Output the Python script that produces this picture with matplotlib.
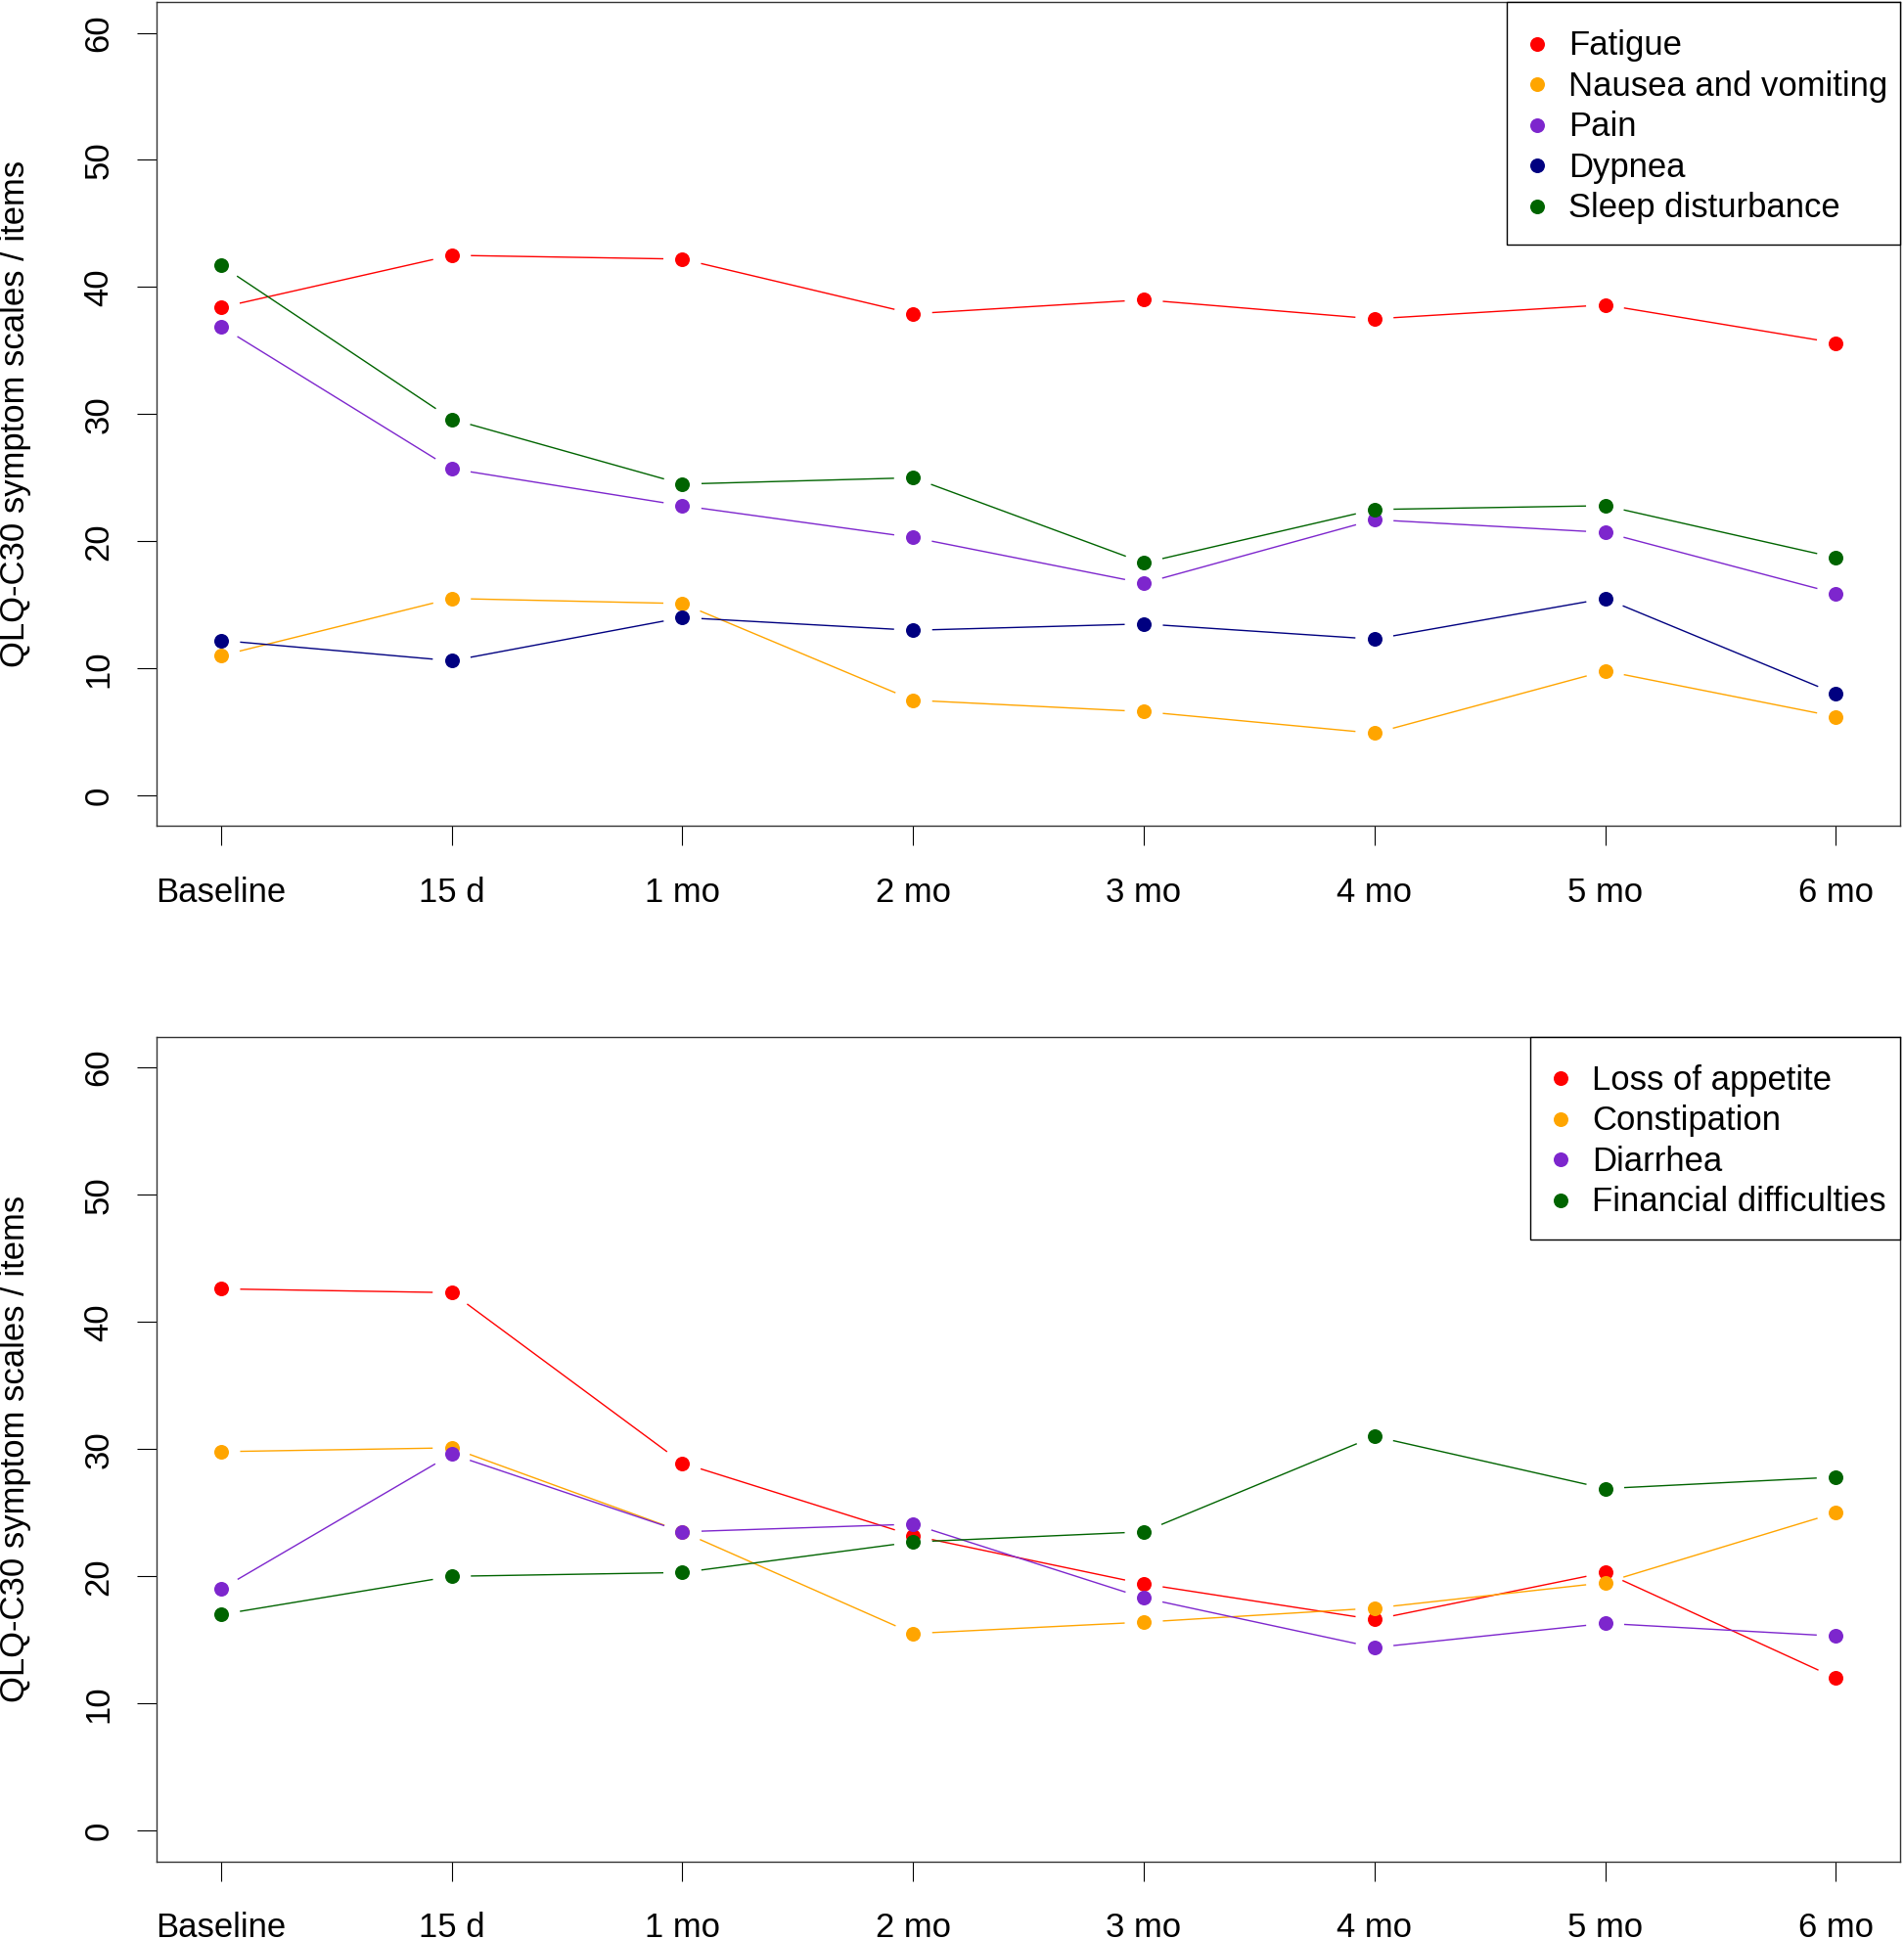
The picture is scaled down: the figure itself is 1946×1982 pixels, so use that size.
# QLQ-C30 symptom scales over follow-up (two panels, R-style type="b" lines)

import numpy as np
import matplotlib
matplotlib.use('Agg')
import matplotlib.pyplot as plt
from matplotlib.patches import Rectangle
from matplotlib.transforms import ScaledTranslation

plt.rcParams['font.family'] = ['Liberation Sans', 'DejaVu Sans']

# Data
TimeLabels = ['Baseline', '15 d', '1 mo', '2 mo', '3 mo', '4 mo', '5 mo', '6 mo']

# top panel
Fatigue = [38.4, 42.5, 42.2, 37.9, 39.0, 37.5, 38.6, 35.6]
Nausea = [11.0, 15.5, 15.1, 7.5, 6.6, 4.9, 9.8, 6.2]
Pain = [36.9, 25.7, 22.8, 20.3, 16.7, 21.7, 20.7, 15.9]
Dypnea = [12.2, 10.6, 14.0, 13.0, 13.5, 12.3, 15.5, 8.0]
Sleep = [41.7, 29.6, 24.5, 25.0, 18.3, 22.5, 22.8, 18.7]
TopNames = ['Fatigue', 'Nausea and vomiting', 'Pain', 'Dypnea', 'Sleep disturbance']

# bottom panel
Appetite = [42.6, 42.3, 28.9, 23.2, 19.4, 16.6, 20.3, 12.0]
Constipation = [29.8, 30.1, 23.5, 15.5, 16.4, 17.5, 19.5, 25.0]
Diarrhea = [19.0, 29.6, 23.5, 24.1, 18.3, 14.4, 16.3, 15.3]
Financial = [17.0, 20.0, 20.3, 22.7, 23.5, 31.0, 26.9, 27.8]
BotNames = ['Loss of appetite', 'Constipation', 'Diarrhea', 'Financial difficulties']

TopCols = ['#FF0000', '#FFA500', '#7D26CD', '#000080', '#006400']
BotCols = ['#FF0000', '#FFA500', '#7D26CD', '#006400']

FS = 24.9      # font size (pt)
GAP = 19.5     # gap between line and point, pixels
MS = 10.8      # marker size
DPI = 100

x = np.arange(1, 9)

fig = plt.figure(figsize=(19.46, 19.82), dpi=DPI)
axTop = fig.add_axes([0.0822, 0.5740, 0.9159, 0.4248])
axBot = fig.add_axes([0.0822, 0.0401, 0.9159, 0.4251])


def gapped_line(ax, xs, ys, col):
    # draw segments that stop short of each point, like R's type="b"
    pts = ax.transData.transform(np.column_stack([xs, ys]))
    inv = ax.transData.inverted()
    for i in range(len(pts) - 1):
        d = pts[i + 1] - pts[i]
        L = np.hypot(d[0], d[1])
        if L <= 2 * GAP:
            continue
        a = pts[i] + d / L * GAP
        b = pts[i + 1] - d / L * GAP
        seg = inv.transform(np.array([a, b]))
        ax.plot(seg[:, 0], seg[:, 1], color=col, lw=1.0, solid_capstyle='butt')


def r_legend(ax, names, cols, boxw, boxh):
    # R-style legend box in the top right corner, sizes in pixels
    T = fig.dpi_scale_trans + ScaledTranslation(1, 1, ax.transAxes)
    ax.add_patch(Rectangle((-boxw / DPI, -boxh / DPI), boxw / DPI, boxh / DPI,
                           transform=T, facecolor='white', edgecolor='black',
                           lw=1.0, clip_on=False, zorder=5))
    for i, (nm, c) in enumerate(zip(names, cols)):
        yrow = -(42.3 + 41.5 * i) / DPI
        ax.plot([(-boxw + 31.2) / DPI], [yrow], 'o', color=c, ms=MS, mec='none',
                transform=T, clip_on=False, zorder=6)
        ax.text((-boxw + 63.2) / DPI, yrow - 11.5 / DPI, nm, transform=T,
                va='baseline', ha='left', fontsize=FS, zorder=6)


def panel(ax, series, cols):
    ax.set_xlim(1 - 0.28, 8 + 0.28)
    ax.set_ylim(-2.4, 62.4)
    for ys, col in zip(series, cols):
        gapped_line(ax, x, ys, col)
        ax.plot(x, ys, 'o', color=col, ms=MS, mec='none')

    ax.set_xticks(x)
    ax.set_xticklabels(TimeLabels)
    ax.set_yticks([0, 10, 20, 30, 40, 50, 60])
    ax.tick_params(axis='x', length=14.4, width=0.8, pad=22.5, labelsize=FS)
    ax.tick_params(axis='y', length=14.4, width=0.8, pad=16, labelsize=FS)
    for lab in ax.get_yticklabels():
        lab.set_rotation(90)
        lab.set_verticalalignment('center')
    for sp in ax.spines.values():
        sp.set_linewidth(1.0)
        sp.set_color('#333333')


panel(axTop, [Fatigue, Nausea, Pain, Dypnea, Sleep], TopCols)
r_legend(axTop, TopNames, TopCols, 402.8, 248.0)

panel(axBot, [Appetite, Constipation, Diarrhea, Financial], BotCols)
r_legend(axBot, BotNames, BotCols, 378.3, 207.3)

# y axis title for both panels
for ax in [axTop, axBot]:
    box = ax.get_position()
    fig.text(15.5 / 1946, box.y0 + box.height / 2, 'QLQ-C30 symptom scales / items',
             rotation=90, ha='center', va='center', fontsize=FS)

plt.savefig('out.png', dpi=DPI)
